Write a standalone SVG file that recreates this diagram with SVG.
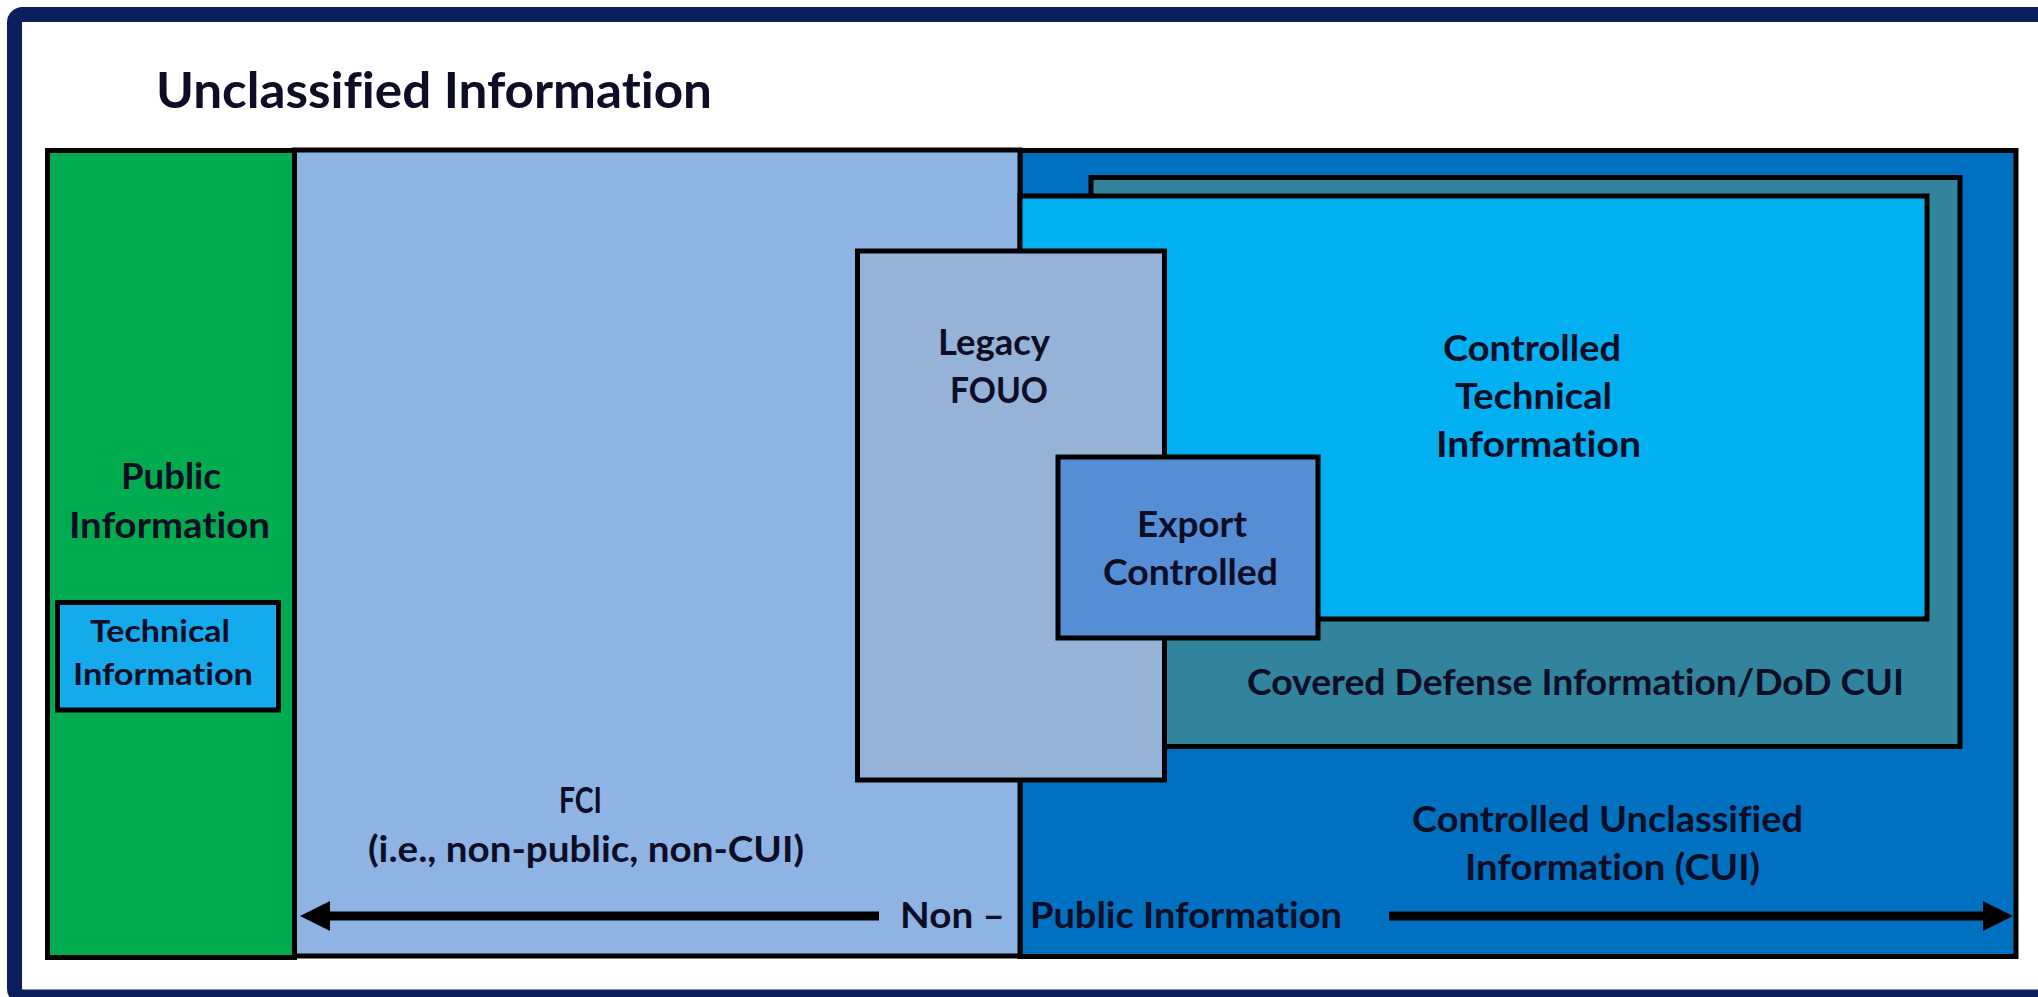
<svg xmlns="http://www.w3.org/2000/svg" width="2038" height="997" viewBox="0 0 2038 997">
  <style>
    .box { stroke: #000; stroke-width: 5; }
    .lbl { font-family: Lato, "Open Sans", "Liberation Sans", sans-serif; font-weight: 700; fill: #0d0d26; font-variant-ligatures: none; font-feature-settings: "liga" 0, "dlig" 0; }
    .big { font-size: 36px; }
    .small { font-size: 30px; }
    .title { font-size: 50px; }
    .arrow { stroke: #000; stroke-width: 9; fill: none; }
  </style>
  <defs>
    <marker id="ah" markerUnits="userSpaceOnUse" markerWidth="32" markerHeight="32" refX="20" refY="15" orient="auto">
      <path d="M0,0 L30,15 L0,30 z" fill="#000"/>
    </marker>
  </defs>
  <rect x="0" y="0" width="2038" height="997" fill="#fff"/>
  <rect id="frame" x="14.5" y="14.5" width="2100" height="982.5" rx="8" fill="none" stroke="#0a1f5b" stroke-width="15"/>
  <text class="lbl title" x="156" y="108" textLength="556" lengthAdjust="spacingAndGlyphs">Unclassified Information</text>

  <g id="cui">
    <rect class="box" x="1020" y="150.5" width="996" height="806" fill="#0070c0"/>
    <text class="lbl big" x="1412" y="832" textLength="391" lengthAdjust="spacingAndGlyphs">Controlled Unclassified</text>
    <text class="lbl big" x="1465" y="880" textLength="295" lengthAdjust="spacingAndGlyphs">Information (CUI)</text>
  </g>
  <g id="fci">
    <rect class="box" x="294.5" y="150" width="725.5" height="806" fill="#8eb4e3"/>
    <text class="lbl big" x="559" y="813" textLength="43" lengthAdjust="spacingAndGlyphs">FCI</text>
    <text class="lbl big" x="368" y="862" textLength="436" lengthAdjust="spacingAndGlyphs">(i.e., non-public, non-CUI)</text>
  </g>
  <g id="public">
    <rect class="box" x="47.5" y="150.5" width="247" height="807" fill="#00ac4f"/>
    <text class="lbl big" x="121" y="489" textLength="100" lengthAdjust="spacingAndGlyphs">Public</text>
    <text class="lbl big" x="69" y="538" textLength="201" lengthAdjust="spacingAndGlyphs">Information</text>
  </g>
  <g id="technical">
    <rect class="box" x="57.5" y="602.5" width="221" height="107.5" fill="#14aaeb"/>
    <text class="lbl small" x="90" y="642" textLength="140" lengthAdjust="spacingAndGlyphs">Technical</text>
    <text class="lbl small" x="73" y="685" textLength="180" lengthAdjust="spacingAndGlyphs">Information</text>
  </g>
  <g id="cdi">
    <rect class="box" x="1091" y="177.5" width="869" height="569" fill="#31849b"/>
    <text class="lbl big" x="1247" y="695" textLength="657" lengthAdjust="spacingAndGlyphs">Covered Defense Information/DoD CUI</text>
  </g>
  <g id="cti">
    <rect class="box" x="1020" y="196" width="907" height="423" fill="#00b0f0"/>
    <text class="lbl big" x="1443" y="361" textLength="178" lengthAdjust="spacingAndGlyphs">Controlled</text>
    <text class="lbl big" x="1455" y="409" textLength="157" lengthAdjust="spacingAndGlyphs">Technical</text>
    <text class="lbl big" x="1436" y="457" textLength="205" lengthAdjust="spacingAndGlyphs">Information</text>
  </g>
  <g id="fouo">
    <rect class="box" x="857.5" y="251" width="307" height="529" fill="#95b3d7"/>
    <text class="lbl big" x="938" y="355" textLength="112" lengthAdjust="spacingAndGlyphs">Legacy</text>
    <text class="lbl big" x="950" y="403" textLength="98" lengthAdjust="spacingAndGlyphs">FOUO</text>
  </g>
  <g id="export">
    <rect class="box" x="1058" y="457" width="260" height="181" fill="#558ed5"/>
    <text class="lbl big" x="1137" y="537" textLength="110" lengthAdjust="spacingAndGlyphs">Export</text>
    <text class="lbl big" x="1103" y="585" textLength="175" lengthAdjust="spacingAndGlyphs">Controlled</text>
  </g>

  <g id="connectors">
    <path class="arrow" d="M879,916 L310,916" marker-end="url(#ah)"/>
    <path class="arrow" d="M1389,916 L2003,916" marker-end="url(#ah)"/>
  </g>
  <g id="span-label">
    <text class="lbl big" x="900" y="928" textLength="105" lengthAdjust="spacingAndGlyphs">Non –</text>
    <text class="lbl big" x="1030" y="928" textLength="312" lengthAdjust="spacingAndGlyphs">Public Information</text>
  </g>
</svg>
